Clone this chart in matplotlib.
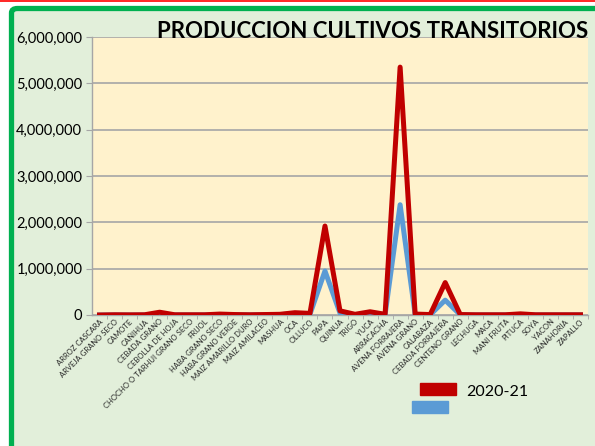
import matplotlib.pyplot as plt
from matplotlib.patches import FancyBboxPatch, Rectangle
from matplotlib.lines import Line2D
from matplotlib.ticker import FuncFormatter

plt.rcParams['font.family'] = ['Lato', 'DejaVu Sans']

cultivos = ["ARROZ CASCARA", "ARVEJA GRANO SECO", "CAMOTE", "CAÑIHUA", "CEBADA GRANO",
            "CEBOLLA DE HOJA", "CHOCHO O TARHUI GRANO SECO", "FRIJOL", "HABA GRANO SECO",
            "HABA GRANO VERDE", "MAIZ AMARILLO DURO", "MAIZ AMILACEO", "MASHUA", "OCA",
            "OLLUCO", "PAPA", "QUINUA", "TRIGO", "YUCA", "ARRACACHA", "AVENA FORRAJERA",
            "AVENA GRANO", "CALABAZA", "CEBADA FORRAJERA", "CENTENO GRANO", "LECHUGA",
            "MACA", "MANI FRUTA", "PITUCA", "SOYA", "YACON", "ZANAHORIA", "ZAPALLO"]

prod_2020_21 = [0, 5000, 3000, 5000, 60000, 5000, 5000, 5000, 20000, 10000, 5000, 10000,
                15000, 50000, 35000, 1920000, 90000, 15000, 70000, 15000, 5350000, 20000,
                10000, 700000, 10000, 5000, 5000, 5000, 25000, 5000, 5000, 5000, 5000]
prod_otro = [0, 2000, 1000, 2000, 25000, 2000, 2000, 2000, 10000, 5000, 3000, 5000,
             8000, 25000, 15000, 950000, 40000, 8000, 30000, 8000, 2380000, 10000,
             5000, 320000, 5000, 2000, 2000, 2000, 10000, 2000, 2000, 2000, 2000]

rojo = "#C00000"
azul = "#5B9BD5"

fig = plt.figure(figsize=(5.95, 4.46), dpi=100)
fig.patch.set_facecolor("white")

# marco verde del grafico (sale por la derecha y abajo)
W, H = 595, 446
marco = FancyBboxPatch((11.5 / W, -0.1), 1.2, (H - 8.5) / H + 0.1,
                       boxstyle="round,pad=0,rounding_size=0.01",
                       transform=fig.transFigure, facecolor="#E2EFDA",
                       edgecolor="#00B050", linewidth=3.8, zorder=0)
fig.patches.append(marco)
fig.add_artist(Line2D([0, 1], [1 - 0.6 / H, 1 - 0.6 / H], color="red", lw=1.2,
                      transform=fig.transFigure))

ax = fig.add_axes([92 / W, 131 / H, 496 / W, 278 / H])
ax.set_zorder(2)
ax.set_facecolor("#FFF2CC")
x = range(len(cultivos))
ax.plot(x, prod_otro, color=azul, lw=3.6, solid_joinstyle="round", zorder=3)
ax.plot(x, prod_2020_21, color=rojo, lw=3.6, solid_joinstyle="round", zorder=4)

ax.set_xlim(-0.5, len(cultivos) - 0.5)
ax.set_ylim(0, 6000000)
ax.set_yticks(range(0, 6000001, 1000000))
ax.yaxis.set_major_formatter(FuncFormatter(lambda v, p: f"{int(v):,}"))
ax.grid(axis="y", color="#A6A6A6", lw=1.2)
ax.set_axisbelow(True)
for s in ["top", "right"]:
    ax.spines[s].set_visible(False)
for s in ["left", "bottom"]:
    ax.spines[s].set_color("#A6A6A6")
    ax.spines[s].set_linewidth(1.0)
ax.tick_params(axis="y", length=4, color="#A6A6A6", labelsize=10.5, pad=3)
ax.set_xticks(list(x))
ax.set_xticks([i + 0.5 for i in x], minor=True)
ax.tick_params(axis="x", which="major", length=0, labelsize=5.5, pad=2)
ax.tick_params(axis="x", which="minor", length=3, color="#A6A6A6")
ax.set_xticklabels(cultivos, rotation=45, ha="right", rotation_mode="anchor")
for lbl in ax.get_xticklabels():
    lbl.set_color("#262626")

fig.text(373 / W, 1 - 32 / H, "PRODUCCION CULTIVOS TRANSITORIOS", ha="center",
         va="center", fontsize=16, fontweight="bold", zorder=5)

# leyenda
fig.patches.append(Rectangle((420 / W, 1 - 395 / H), 36 / W, 12 / H,
                             transform=fig.transFigure, color=rojo))
fig.patches.append(Rectangle((412 / W, 1 - 413 / H), 36 / W, 12 / H,
                             transform=fig.transFigure, color=azul))
fig.text(466 / W, 1 - 392 / H, "2020-21", ha="left", va="center", fontsize=11.5)

fig.savefig("out.png", dpi=100, facecolor=fig.get_facecolor())
